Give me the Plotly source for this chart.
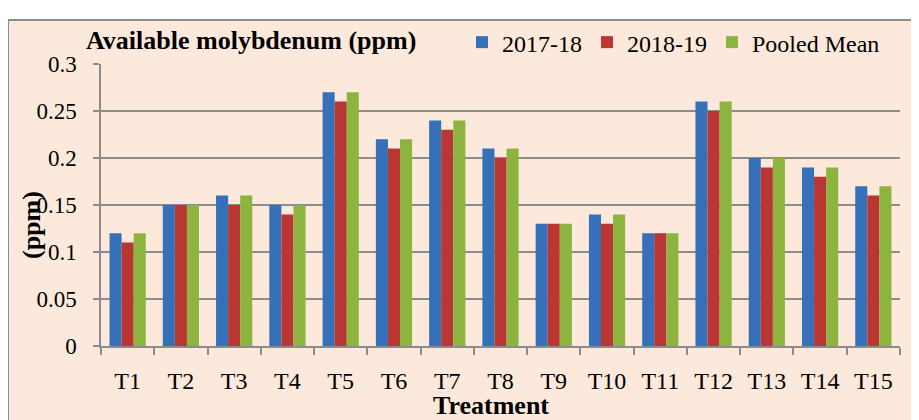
import plotly.graph_objects as go

categories = ["T1","T2","T3","T4","T5","T6","T7","T8","T9","T10","T11","T12","T13","T14","T15"]
y2017 = [0.12,0.15,0.16,0.15,0.27,0.22,0.24,0.21,0.13,0.14,0.12,0.26,0.20,0.19,0.17]
y2018 = [0.11,0.15,0.15,0.14,0.26,0.21,0.23,0.20,0.13,0.13,0.12,0.25,0.19,0.18,0.16]
pooled = [0.12,0.15,0.16,0.15,0.27,0.22,0.24,0.21,0.13,0.14,0.12,0.26,0.20,0.19,0.17]
series_names = ["2017-18", "2018-19", "Pooled Mean"]
colors = ["#3670b8", "#b93633", "#8db43f"]

OFF = 8  # page body margin
W, H = 919 - OFF, 420 - OFF
# plot area in screen pixels
SL, SR, ST, SB = 101, 900, 57, 346
L, R, T, B = SL - OFF, SR - OFF, ST - OFF, SB - OFF

def px(x):  # screen x -> paper
    return (x - OFF - L) / (R - L)

def py(y):  # screen y -> paper
    return (B - (y - OFF)) / (B - T)

font_family = "Liberation Serif, Times New Roman, serif"

fig = go.Figure()
for name, vals, c in zip(series_names, [y2017, y2018, pooled], colors):
    fig.add_trace(go.Bar(x=categories, y=vals, name=name,
                         marker=dict(color=c, line=dict(width=0))))

fig.update_layout(
    width=W, height=H,
    margin=dict(l=L, r=W - R, t=T, b=H - B),
    paper_bgcolor="white",
    plot_bgcolor="#dce6f2",
    barmode="group", bargap=0.32, bargroupgap=0,
    font=dict(family=font_family, size=23, color="black"),
    showlegend=True,
    legend=dict(orientation="h", x=px(462), y=py(35), xanchor="left", yanchor="middle",
                bgcolor="rgba(0,0,0,0)", font=dict(size=24, family=font_family),
                itemwidth=30, tracegroupgap=0),
    shapes=[
        dict(type="rect", xref="paper", yref="paper", layer="below",
             x0=px(8), x1=px(940), y0=py(12), y1=py(440),
             fillcolor="#fde9dc", line=dict(color="#8c8c8c", width=2)),
    ],
    annotations=[
        dict(text="<b>Available molybdenum (ppm)</b>", xref="paper", yref="paper",
             x=px(84), y=py(33), xanchor="left", yanchor="middle", showarrow=False,
             font=dict(size=26, family=font_family)),
        dict(text="<b>(ppm)</b>", xref="paper", yref="paper", textangle=-90,
             x=px(31), y=py(222), xanchor="center", yanchor="middle", showarrow=False,
             font=dict(size=26, family=font_family)),
        dict(text="<b>Treatment</b>", xref="paper", yref="paper",
             x=px(491), y=py(407), xanchor="center", yanchor="middle", showarrow=False,
             font=dict(size=26, family=font_family)),
    ],
)
fig.update_yaxes(range=[0, 0.3], dtick=0.05, tickformat="~g",
                 showgrid=True, gridcolor="#8c8c8c", gridwidth=1.5,
                 showline=True, linecolor="#8c8c8c", linewidth=1.5,
                 ticks="outside", ticklen=6, tickcolor="#8c8c8c", tickwidth=1.5,
                 zeroline=False, tickfont=dict(size=23), ticklabelstandoff=12)
fig.update_xaxes(showline=True, linecolor="#8c8c8c", linewidth=1.5,
                 ticks="outside", tickson="boundaries", ticklen=7, tickcolor="#8c8c8c", tickwidth=1.5,
                 tickfont=dict(size=24), ticklabelstandoff=12)

fig.write_html("out.html")
